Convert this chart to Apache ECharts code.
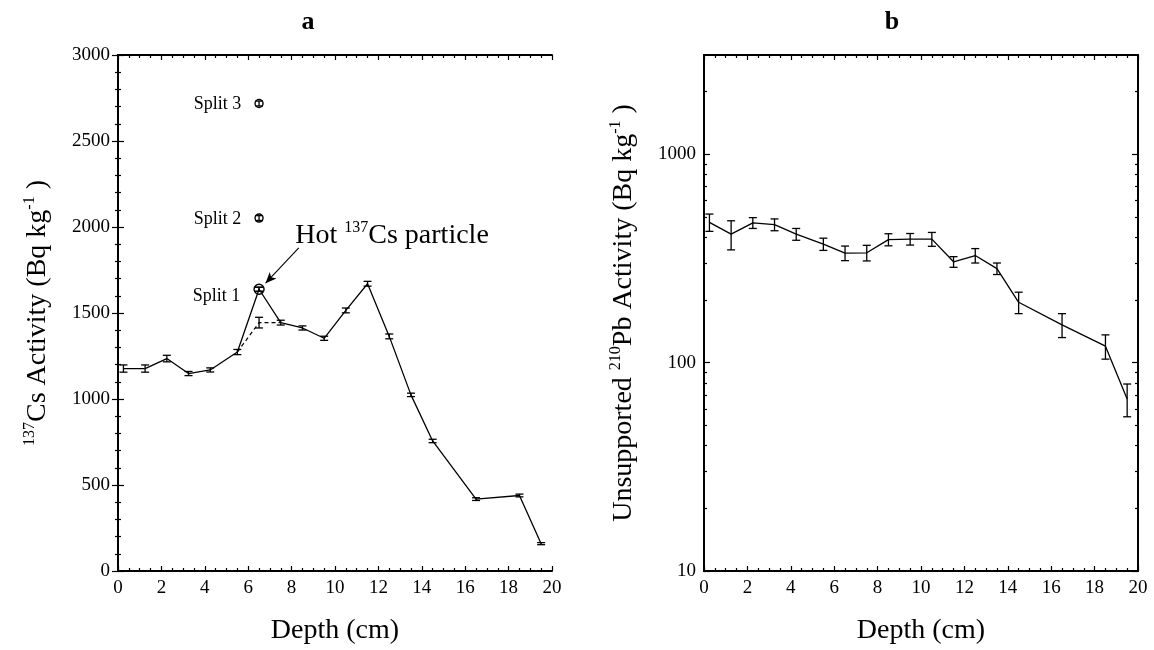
<!doctype html>
<html>
<head>
    <meta charset="UTF-8">
    <title>137Cs and 210Pb depth profiles</title>
    <script src="https://cdn.jsdelivr.net/npm/echarts@6/dist/echarts.min.js"></script>
</head>
<body style="margin:0;background:#fff">
<div id="main" style="width:1154px;height:650px"></div>
<script type="text/javascript">
    // depth of each slice (cm)
    var depth = [0.25, 1.25, 2.25, 3.25, 4.25, 5.5, 6.5, 7.5, 8.5, 9.5, 10.5, 11.5, 12.5, 13.5, 14.5, 16.5, 18.5, 19.5];
    // a: 137Cs activity and error (Bq/kg)
    var csValue = [1177, 1177, 1235, 1148, 1169, 1273, 1638, 1444, 1413, 1353, 1515, 1670, 1364, 1024, 756, 418, 439, 159];
    var csError = [21, 21, 19, 12, 12, 15, 12, 14, 12, 12, 14, 14, 14, 10, 10, 8, 8, 6];
    // a: profile without the hot particle (dashed)
    var noHotDepth = [5.5, 6.5, 7.5];
    var noHotValue = [1273, 1444, 1444];
    var noHotError = [0, 31, 0];
    // a: splits of the 6.5 cm slice
    var splitName = ['Split 1', 'Split 2', 'Split 3'];
    var splitDepth = [6.5, 6.5, 6.5];
    var splitValue = [1638, 2052, 2718];
    var splitError = [12, 14, 14];
    // b: unsupported 210Pb activity and error (Bq/kg)
    var pbValue = [472, 414, 469, 460, 414, 371, 336, 337, 390, 392, 392, 305, 327, 283, 195, 152, 120, 67];
    var pbError = [45, 66, 28, 30, 27, 25, 27, 29, 26, 25, 30, 18, 26, 18, 23, 20, 16, 12];
    // tick values
    var xTicks = {min: 0, max: 20, interval: 2};
    var csTicks = {min: 0, max: 3000, interval: 500};
    var logMajor = [10, 100, 1000];
    var logMinor = [20, 30, 40, 50, 60, 70, 80, 90, 200, 300, 400, 500, 600, 700, 800, 900, 2000];
    // annotation
    var hotLabelAt = [8.17, 1950];
    var hotArrow = [[8.33, 1878], [6.8, 1673]];

    var serif = "'Liberation Serif', 'Times New Roman', serif";
    var black = '#000';

    function zip3(a, b, c) {
        var out = [];
        for (var i = 0; i < a.length; i++) out.push([a[i], b[i], c[i]]);
        return out;
    }

    function errorBars(params, api) {
        var x = api.value(0), y = api.value(1), e = api.value(2);
        if (!e) return null;
        var hi = api.coord([x, y + e]);
        var lo = api.coord([x, y - e]);
        var w = 4;
        var st = {stroke: black, lineWidth: 1.3};
        return {
            type: 'group',
            children: [
                {type: 'line', shape: {x1: hi[0], y1: hi[1], x2: lo[0], y2: lo[1]}, style: st},
                {type: 'line', shape: {x1: hi[0] - w, y1: hi[1], x2: hi[0] + w, y2: hi[1]}, style: st},
                {type: 'line', shape: {x1: lo[0] - w, y1: lo[1], x2: lo[0] + w, y2: lo[1]}, style: st}
            ]
        };
    }

    var richName = {
        n: {fontFamily: serif, fontSize: 28, color: black, lineHeight: 32},
        s: {fontFamily: serif, fontSize: 16, color: black, lineHeight: 16, verticalAlign: 'top'}
    };

    function xAxisOf(grid, pos) {
        var bottom = pos === 'bottom';
        return {
            type: 'value', gridIndex: grid, position: pos,
            min: xTicks.min, max: xTicks.max, interval: xTicks.interval,
            axisLine: {show: true, onZero: false, lineStyle: {color: black, width: 2}},
            axisTick: {show: true, inside: true, length: 5, lineStyle: {color: black, width: 1.2}},
            minorTick: {show: true, splitNumber: 4, length: 3, lineStyle: {color: black, width: 1.2}},
            axisLabel: {show: bottom, color: black, fontFamily: serif, fontSize: 19, margin: 8},
            splitLine: {show: false},
            name: bottom ? 'Depth (cm)' : '',
            nameLocation: 'middle',
            nameGap: 46,
            nameTextStyle: {fontFamily: serif, fontSize: 28, color: black}
        };
    }

    function csAxis(pos) {
        var left = pos === 'left';
        return {
            type: 'value', gridIndex: 0, position: pos,
            min: csTicks.min, max: csTicks.max, interval: csTicks.interval,
            axisLine: {show: true, lineStyle: {color: black, width: 2}},
            axisTick: {show: true, inside: true, length: 6, lineStyle: {color: black, width: 1.2}},
            minorTick: {show: true, splitNumber: 5, length: 3, lineStyle: {color: black, width: 1.2}},
            axisLabel: {show: left, color: black, fontFamily: serif, fontSize: 19, margin: 8,
                formatter: function (v) { return String(v); }},
            splitLine: {show: false},
            name: left ? '{s|137}{n|Cs Activity (Bq kg}{s|-1}{n| )}' : '',
            nameLocation: 'middle',
            nameRotate: 90,
            nameGap: 64,
            nameTextStyle: {rich: richName}
        };
    }

    function logAxis(pos, minor) {
        var left = pos === 'left';
        return {
            type: 'log', logBase: 10, gridIndex: 1, position: pos,
            min: 10, max: 3000,
            axisLine: {show: !minor, lineStyle: {color: black, width: 2}},
            axisTick: {show: true, inside: true, length: minor ? 3 : 6,
                customValues: minor ? logMinor : logMajor,
                lineStyle: {color: black, width: 1.2}},
            axisLabel: {show: left && !minor, customValues: logMajor, color: black, fontFamily: serif,
                fontSize: 19, margin: 8, formatter: function (v) { return String(v); }},
            splitLine: {show: false},
            name: (left && !minor) ? '{n|Unsupported }{s|210}{n|Pb Activity (Bq kg}{s|-1}{n| )}' : '',
            nameLocation: 'middle',
            nameRotate: 90,
            nameGap: 64,
            nameTextStyle: {rich: richName}
        };
    }

    var myChart = echarts.init(document.getElementById('main'));
    var option = {
        backgroundColor: '#fff',
        animation: false,
        title: [
            {text: 'a', left: 303, top: 4, textAlign: 'center',
                textStyle: {fontFamily: serif, fontSize: 26, fontWeight: 'bold', color: black}},
            {text: 'b', left: 887, top: 4, textAlign: 'center',
                textStyle: {fontFamily: serif, fontSize: 26, fontWeight: 'bold', color: black}}
        ],
        grid: [
            {left: 118, top: 55, width: 434, height: 517},
            {left: 704, top: 55, width: 434, height: 517}
        ],
        xAxis: [xAxisOf(0, 'bottom'), xAxisOf(0, 'top'), xAxisOf(1, 'bottom'), xAxisOf(1, 'top')],
        yAxis: [csAxis('left'), csAxis('right'),
            logAxis('left', false), logAxis('left', true), logAxis('right', false), logAxis('right', true)],
        series: [
            {
                name: '137Cs',
                type: 'line',
                xAxisIndex: 0, yAxisIndex: 0,
                data: zip3(depth, csValue, csError),
                encode: {x: 0, y: 1},
                showSymbol: false,
                symbol: 'none',
                lineStyle: {color: black, width: 1.3},
                z: 3,
                markLine: {
                    silent: true,
                    symbol: ['none', 'arrow'],
                    symbolSize: [7, 11],
                    lineStyle: {color: black, width: 1.1, type: 'solid'},
                    label: {show: false},
                    data: [[{coord: hotArrow[0]}, {coord: hotArrow[1]}]]
                }
            },
            {
                name: '137Cs err',
                type: 'custom',
                xAxisIndex: 0, yAxisIndex: 0,
                data: zip3(depth, csValue, csError),
                encode: {x: 0, y: 1},
                renderItem: errorBars,
                z: 4
            },
            {
                name: 'no hot particle',
                type: 'line',
                xAxisIndex: 0, yAxisIndex: 0,
                data: zip3(noHotDepth, noHotValue, noHotError),
                encode: {x: 0, y: 1},
                symbol: 'none',
                lineStyle: {color: black, width: 1.2, type: [4, 3]},
                z: 3
            },
            {
                name: 'no hot err',
                type: 'custom',
                xAxisIndex: 0, yAxisIndex: 0,
                data: zip3(noHotDepth, noHotValue, noHotError),
                encode: {x: 0, y: 1},
                renderItem: errorBars,
                z: 4
            },
            {
                name: 'splits err',
                type: 'custom',
                xAxisIndex: 0, yAxisIndex: 0,
                data: zip3(splitDepth, splitValue, splitError),
                encode: {x: 0, y: 1},
                renderItem: errorBars,
                z: 5
            },
            {
                name: 'splits',
                type: 'scatter',
                xAxisIndex: 0, yAxisIndex: 0,
                data: splitValue.map(function (v, i) {
                    return {
                        value: [splitDepth[i], v],
                        symbolSize: i === 0 ? 10 : 8,
                        label: {offset: i === 0 ? [0, 7] : [0, 1]}
                    };
                }),
                symbol: 'circle',
                itemStyle: {color: 'rgba(255,255,255,0)', borderColor: black, borderWidth: 1.4, opacity: 1},
                label: {
                    show: true, position: 'left', distance: 13,
                    fontFamily: serif, fontSize: 18, color: black,
                    formatter: function (p) { return splitName[p.dataIndex]; }
                },
                z: 6
            },
            {
                name: 'hot label',
                type: 'scatter',
                xAxisIndex: 0, yAxisIndex: 0,
                data: [hotLabelAt],
                symbolSize: 0,
                silent: true,
                itemStyle: {opacity: 1},
                label: {
                    show: true, position: 'right', distance: 0, color: black,
                    formatter: '{n|Hot }{s|137}{n|Cs particle}',
                    rich: richName
                }
            },
            {
                name: '210Pb',
                type: 'line',
                xAxisIndex: 2, yAxisIndex: 2,
                data: zip3(depth, pbValue, pbError),
                encode: {x: 0, y: 1},
                symbol: 'none',
                lineStyle: {color: black, width: 1.3},
                z: 3
            },
            {
                name: '210Pb err',
                type: 'custom',
                xAxisIndex: 2, yAxisIndex: 2,
                data: zip3(depth, pbValue, pbError),
                encode: {x: 0, y: 1},
                renderItem: errorBars,
                z: 4
            }
        ]
    };
    myChart.setOption(option);
</script>
</body>
</html>
